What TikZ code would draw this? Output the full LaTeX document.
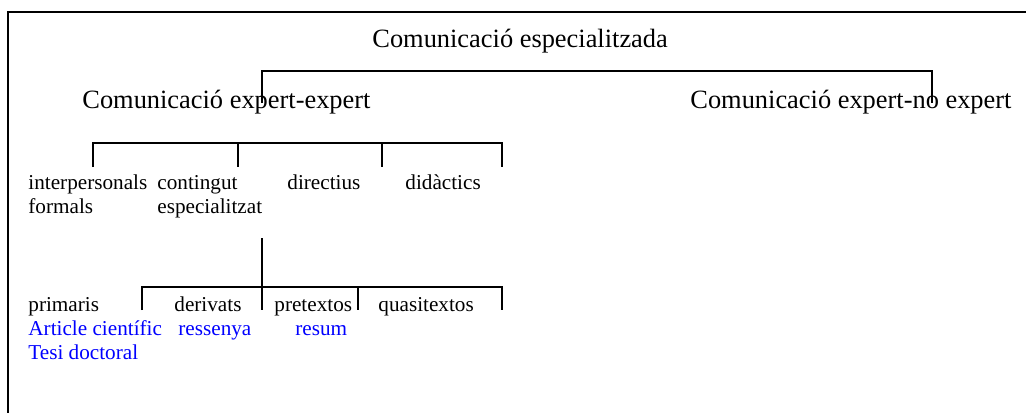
\documentclass[tikz,border=0pt]{standalone}
\usepackage{fontspec}
\setmainfont{Liberation Serif}
\usepackage{xcolor}
\usepackage{tikz}
\definecolor{termblue}{RGB}{0, 0, 255}

\tikzset{
    big/.style={anchor=base west, inner sep=0pt, font=\fontsize{13.2pt}{15pt}\selectfont},
    small/.style={anchor=base west, inner sep=0pt, font=\fontsize{10.6pt}{12pt}\selectfont},
    example/.style={small, text=termblue},
    branch/.style={line width=1pt}
}

\begin{document}
\begin{tikzpicture}[x=0.5pt, y=-0.5pt]
    \useasboundingbox (0,0) rectangle (1026,412);
    % frame (only top and left edges show)
    \draw[line width=1.2pt] (8,420) -- (8,12) -- (1030,12);

    % top level
    \node[big] (root) at (372,47) {Comunicació especialitzada};
    \node[big] (expexp) at (82,108) {Comunicació expert-expert};
    \node[big] (expnoexp) at (690,108) {Comunicació expert-no expert};
    \coordinate (r1) at (262,70.5);
    \coordinate (r2) at (932,70.5);
    \draw[branch] (262,103) -- (r1) -- (r2) -- (932,103);

    % expert-expert kinds
    \node[small] (interp) at (28,189) {interpersonals};
    \node[small] (conting) at (157,189) {contingut};
    \node[small] (direct) at (287,189) {directius};
    \node[small] (didact) at (405,189) {didàctics};
    \node[small] (formals) at (28,213) {formals};
    \node[small] (espec) at (157,213) {especialitzat};
    \coordinate (k1) at (93,143);
    \coordinate (k2) at (502,143);
    \draw[branch] (93,167) -- (k1) -- (k2) -- (502,167);
    \foreach \x in {238,382}
        \draw[branch] (\x,143) -- (\x,167);

    % specialised content texts
    \coordinate (s0) at (262,238);
    \coordinate (s1) at (142,287);
    \coordinate (s2) at (502,287);
    \draw[branch] (s0) -- (262,310);
    \draw[branch] (142,310) -- (s1) -- (s2) -- (502,310);
    \draw[branch] (358,287) -- (358,310);
    \node[small] (prim) at (28,311) {primaris};
    \node[small] (deriv) at (174,311) {derivats};
    \node[small] (pretext) at (274,311) {pretextos};
    \node[small] (quasi) at (378,311) {quasitextos};

    % examples
    \node[example] (article) at (28,335) {Article científic};
    \node[example] (ressenya) at (178,335) {ressenya};
    \node[example] (resum) at (295,335) {resum};
    \node[example] (tesi) at (28,359) {Tesi doctoral};
\end{tikzpicture}
\end{document}
